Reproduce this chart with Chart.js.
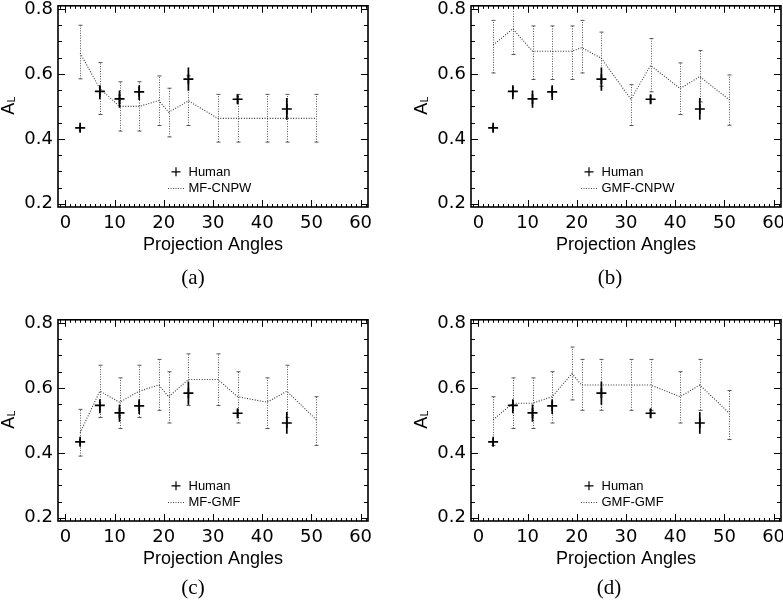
<!DOCTYPE html>
<html>
<head>
<meta charset="utf-8">
<script src="https://cdn.jsdelivr.net/npm/chart.js@4"></script>
<style>
  html, body { margin:0; padding:0; background:#fff; }
  body { width:783px; height:608px; position:relative; overflow:hidden; }
  canvas.panel { position:absolute; }
  .cap { position:absolute; width:100px; text-align:center; font-family:'Liberation Serif','DejaVu Serif',serif; font-size:21px; line-height:22px; color:#000; }
</style>
</head>
<body>
<canvas id="pa" class="panel" width="391" height="280" style="left:0px;top:-10px"></canvas>
<canvas id="pb" class="panel" width="391" height="280" style="left:413px;top:-10px"></canvas>
<canvas id="pc" class="panel" width="391" height="280" style="left:0px;top:304px"></canvas>
<canvas id="pd" class="panel" width="391" height="280" style="left:413px;top:304px"></canvas>
<div class="cap" id="ca" style="left:143px;top:266px"></div>
<div class="cap" id="cb" style="left:560px;top:266px"></div>
<div class="cap" id="cc" style="left:143px;top:576px"></div>
<div class="cap" id="cd" style="left:559px;top:576px"></div>
<script>
// ---------------- data ----------------
const humanAngles = [3, 7, 11, 15, 25, 35, 45];
const humanValues = [0.434, 0.546, 0.523, 0.545, 0.584, 0.522, 0.492];
const humanLow    = [0.422, 0.522, 0.496, 0.520, 0.548, 0.508, 0.459];
const humanHigh   = [0.444, 0.565, 0.549, 0.565, 0.620, 0.535, 0.526];

const modelAngles = [3, 7, 11, 15, 19, 21, 25, 31, 35, 41, 45, 51];

const mfCnpwValues = [0.664, 0.555, 0.500, 0.500, 0.518, 0.482, 0.517, 0.463, 0.463, 0.463, 0.463, 0.463];
const mfCnpwLow    = [0.585, 0.475, 0.424, 0.424, 0.441, 0.406, 0.441, 0.390, 0.390, 0.390, 0.390, 0.390];
const mfCnpwHigh   = [0.750, 0.635, 0.576, 0.576, 0.594, 0.556, 0.594, 0.537, 0.537, 0.537, 0.537, 0.537];

const gmfCnpwValues = [0.689, 0.739, 0.670, 0.670, 0.670, 0.681, 0.648, 0.522, 0.626, 0.555, 0.592, 0.520];
const gmfCnpwLow    = [0.603, 0.660, 0.583, 0.583, 0.583, 0.603, 0.562, 0.441, 0.545, 0.475, 0.514, 0.442];
const gmfCnpwHigh   = [0.765, 0.820, 0.748, 0.748, 0.748, 0.765, 0.729, 0.567, 0.709, 0.634, 0.672, 0.597];

const mfGmfValues = [0.462, 0.590, 0.556, 0.590, 0.609, 0.573, 0.626, 0.626, 0.573, 0.556, 0.590, 0.502];
const mfGmfLow    = [0.390, 0.509, 0.475, 0.509, 0.531, 0.492, 0.546, 0.546, 0.492, 0.475, 0.509, 0.423];
const mfGmfHigh   = [0.534, 0.670, 0.631, 0.670, 0.688, 0.650, 0.705, 0.705, 0.650, 0.631, 0.670, 0.573];

const gmfGmfValues = [0.502, 0.553, 0.553, 0.573, 0.644, 0.609, 0.609, 0.609, 0.609, 0.573, 0.609, 0.522];
const gmfGmfLow    = [0.423, 0.475, 0.475, 0.492, 0.563, 0.531, 0.531, 0.531, 0.531, 0.492, 0.531, 0.441];
const gmfGmfHigh   = [0.573, 0.631, 0.631, 0.650, 0.726, 0.688, 0.688, 0.688, 0.688, 0.650, 0.688, 0.592];

const humanLabel = 'Human';
const modelLabels = ['MF-CNPW', 'GMF-CNPW', 'MF-GMF', 'GMF-GMF'];
const panelCaptions = ['(a)', '(b)', '(c)', '(d)'];
const xTickValues = [0, 10, 20, 30, 40, 50, 60];
const yTickValues = [0.2, 0.4, 0.6, 0.8];
const xTitle = 'Projection Angles';
const yTitleMain = 'A';
const yTitleSub = 'L';

// ---------------- plugins ----------------
const FONT = "'Liberation Sans', Arial, Helvetica, sans-serif";
const TICKFONT = "'DejaVu Sans', 'Liberation Sans', sans-serif";

const errorBars = {
  id: 'errorBars',
  beforeDatasetsDraw(chart) {
    const { ctx, chartArea: a, scales: { x, y } } = chart;
    ctx.save();
    ctx.beginPath();
    ctx.rect(a.left, a.top, a.right - a.left, a.bottom - a.top);
    ctx.clip();
    const order = chart.data.datasets.map((d, i) => i).reverse();
    order.forEach(di => {
      const ds = chart.data.datasets[di];
      if (!ds.errLow) return;
      ds.data.forEach((p, i) => {
        const px = x.getPixelForValue(p.x);
        const y1 = y.getPixelForValue(ds.errLow[i]);
        const y2 = y.getPixelForValue(ds.errHigh[i]);
        if (ds.errSolid) {
          ctx.setLineDash([]);
          ctx.strokeStyle = '#000';
          ctx.lineWidth = 1.7;
          ctx.beginPath(); ctx.moveTo(px, y1); ctx.lineTo(px, y2); ctx.stroke();
        } else {
          const cx = Math.round(px) + 0.5;
          ctx.strokeStyle = '#555';
          ctx.lineWidth = 1;
          ctx.setLineDash([1, 1.5]);
          ctx.beginPath(); ctx.moveTo(cx, y1); ctx.lineTo(cx, y2); ctx.stroke();
          ctx.setLineDash([]);
          ctx.beginPath();
          ctx.moveTo(cx - 2, y1); ctx.lineTo(cx + 2, y1);
          ctx.moveTo(cx - 2, y2); ctx.lineTo(cx + 2, y2);
          ctx.stroke();
        }
      });
    });
    ctx.restore();
  }
};

const frameTicks = {
  id: 'frameTicks',
  afterDraw(chart) {
    const { ctx, chartArea: a, scales: { x, y } } = chart;
    ctx.save();
    ctx.strokeStyle = '#000';
    ctx.setLineDash([]);
    ctx.lineWidth = 1;
    ctx.beginPath();
    const majorX = x.ticks.map(t => t.value);
    for (let v = Math.ceil(x.min); v <= x.max; v += 1) {
      const px = Math.round(x.getPixelForValue(v)) + 0.5;
      const len = majorX.includes(v) ? 7 : 3;
      ctx.moveTo(px, a.bottom); ctx.lineTo(px, a.bottom - len);
      ctx.moveTo(px, a.top); ctx.lineTo(px, a.top + len);
    }
    const majorY = y.ticks.map(t => t.value);
    for (let k = Math.ceil(y.min / 0.05 - 1e-6); k * 0.05 <= y.max + 1e-9; k++) {
      const v = +(k * 0.05).toFixed(3);
      const py = Math.round(y.getPixelForValue(v)) + 0.5;
      const len = majorY.some(m => Math.abs(m - v) < 1e-6) ? 7 : 4;
      ctx.moveTo(a.left, py); ctx.lineTo(a.left + len, py);
      ctx.moveTo(a.right, py); ctx.lineTo(a.right - len, py);
    }
    ctx.stroke();
    ctx.lineWidth = 1.6;
    ctx.strokeRect(a.left, a.top, a.right - a.left, a.bottom - a.top);

    // y-axis title with subscript
    ctx.fillStyle = '#000';
    ctx.save();
    ctx.translate(a.left - 44.5, a.top + 109);
    ctx.rotate(-Math.PI / 2);
    ctx.textBaseline = 'alphabetic';
    ctx.textAlign = 'left';
    ctx.font = '18px ' + FONT;
    ctx.fillText(yTitleMain, 0, 0);
    const w = ctx.measureText(yTitleMain).width;
    ctx.font = '10px ' + FONT;
    ctx.fillText(yTitleSub, w + 0.5, 1);
    ctx.restore();

    // in-plot legend
    const ds = chart.data.datasets;
    const lx = a.left, ly = a.top;
    ctx.font = '13px ' + FONT;
    ctx.textBaseline = 'middle';
    ctx.textAlign = 'left';
    ctx.lineWidth = 1.2;
    ctx.beginPath();
    const mx = lx + 118, my = ly + 166;
    ctx.moveTo(mx - 4.5, my); ctx.lineTo(mx + 4.5, my);
    ctx.moveTo(mx, my - 4.5); ctx.lineTo(mx, my + 4.5);
    ctx.stroke();
    ctx.fillText(ds[0].label, lx + 130.5, my + 0.5);
    const sy = ly + 182.5;
    ctx.strokeStyle = '#444';
    ctx.lineWidth = 1;
    ctx.setLineDash([1, 1.5]);
    ctx.beginPath(); ctx.moveTo(lx + 110, Math.round(sy) + 0.5); ctx.lineTo(lx + 127, Math.round(sy) + 0.5); ctx.stroke();
    ctx.setLineDash([]);
    ctx.fillText(ds[1].label, lx + 130.5, sy);
    ctx.restore();
  }
};

// ---------------- charts ----------------
const modelSets = [
  [mfCnpwValues, mfCnpwLow, mfCnpwHigh],
  [gmfCnpwValues, gmfCnpwLow, gmfCnpwHigh],
  [mfGmfValues, mfGmfLow, mfGmfHigh],
  [gmfGmfValues, gmfGmfLow, gmfGmfHigh]
];
const canvasIds = ['pa', 'pb', 'pc', 'pd'];
const captionIds = ['ca', 'cb', 'cc', 'cd'];

canvasIds.forEach((id, k) => {
  const [vals, lo, hi] = modelSets[k];
  document.getElementById(captionIds[k]).textContent = panelCaptions[k];
  new Chart(document.getElementById(id), {
    type: 'scatter',
    data: {
      datasets: [
        {
          label: humanLabel,
          data: humanAngles.map((a, i) => ({ x: a, y: humanValues[i] })),
          errLow: humanLow, errHigh: humanHigh, errSolid: true,
          showLine: false,
          pointStyle: 'cross',
          pointRadius: 5,
          pointBorderWidth: 1.7,
          borderColor: '#000',
          backgroundColor: '#000'
        },
        {
          label: modelLabels[k],
          data: modelAngles.map((a, i) => ({ x: a, y: vals[i] })),
          errLow: lo, errHigh: hi, errSolid: false,
          showLine: true,
          borderColor: '#333',
          borderWidth: 1.1,
          borderDash: [1, 1.6],
          pointRadius: 0,
          tension: 0
        }
      ]
    },
    options: {
      responsive: false,
      animation: false,
      devicePixelRatio: 1,
      layout: { padding: { left: 0, right: 23, top: 14, bottom: 0 } },
      plugins: { legend: { display: false }, tooltip: { enabled: false } },
      scales: {
        x: {
          type: 'linear',
          min: -1.5, max: 61.5,
          afterBuildTicks: s => { s.ticks = xTickValues.map(v => ({ value: v })); },
          afterFit: s => { s.height = 63; },
          grid: { display: false, drawTicks: false },
          border: { display: false },
          ticks: { padding: 6, color: '#000', font: { family: TICKFONT, size: 18 } },
          title: { display: true, text: xTitle, color: '#000', padding: { top: 0, bottom: 14 }, font: { family: FONT, size: 18 } }
        },
        y: {
          type: 'linear',
          min: 0.19, max: 0.81,
          afterBuildTicks: s => { s.ticks = yTickValues.map(v => ({ value: v })); },
          afterFit: s => { s.width = 58; },
          grid: { display: false, drawTicks: false },
          border: { display: false },
          ticks: { padding: 5, color: '#000', font: { family: TICKFONT, size: 18 }, callback: v => v.toFixed(1) }
        }
      }
    },
    plugins: [errorBars, frameTicks]
  });
});
</script>
</body>
</html>
